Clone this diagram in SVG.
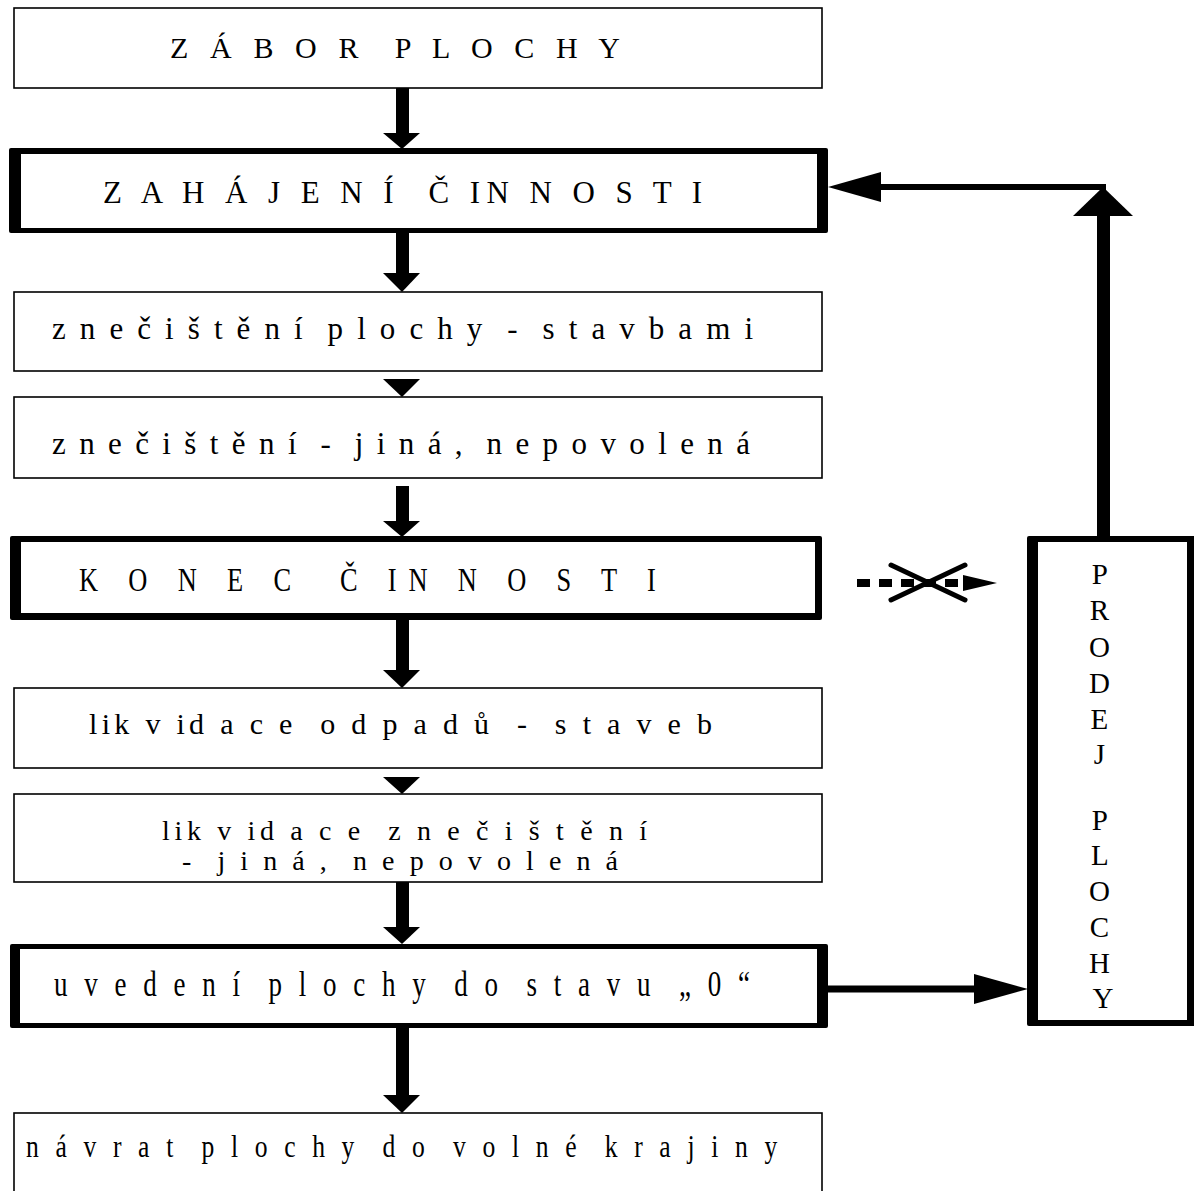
<svg xmlns="http://www.w3.org/2000/svg" width="1194" height="1191" viewBox="0 0 1194 1191">
<style>
.bg{fill:#fff}
.thin{fill:#fff;stroke:#000;stroke-width:1.6}
.frame{fill:#000}
.inner{fill:#fff}
.t{font-family:"Liberation Serif","Times New Roman",serif;fill:#000}
.ar{fill:#000;stroke:none}
.ln{stroke:#000;fill:none}
</style>
<rect class="bg" x="0" y="0" width="1194" height="1191"/>
<g id="connectors">
  <rect class="ar" x="396" y="88" width="13" height="46"/>
  <polygon class="ar" points="383,133 420,133 402,149"/>
  <rect class="ar" x="396" y="233" width="13" height="41"/>
  <polygon class="ar" points="383,273 420,273 402,292"/>
  <polygon class="ar" points="383,379 420,379 402,397"/>
  <rect class="ar" x="396" y="486" width="13" height="36"/>
  <polygon class="ar" points="383,521 420,521 402,537"/>
  <rect class="ar" x="396" y="620" width="13" height="51"/>
  <polygon class="ar" points="383,670 420,670 402,688"/>
  <polygon class="ar" points="383,777 420,777 402,794"/>
  <rect class="ar" x="396" y="882" width="13" height="46"/>
  <polygon class="ar" points="383,927 420,927 402,944"/>
  <rect class="ar" x="396" y="1028" width="13" height="68"/>
  <polygon class="ar" points="383,1095 420,1095 402,1113"/>
  <line class="ln" x1="828" y1="989" x2="976" y2="989" stroke-width="7"/>
  <polygon class="ar" points="974,974 1028,989 974,1004"/>
  <rect class="ar" x="1097" y="214" width="13" height="323"/>
  <polygon class="ar" points="1073,216 1133,216 1103,187"/>
  <line class="ln" x1="1106" y1="187" x2="880" y2="187" stroke-width="6"/>
  <polygon class="ar" points="881,172 828,187 881,202"/>
  <line class="ln" x1="857" y1="583" x2="965" y2="583" stroke-width="8" stroke-dasharray="13 9"/>
  <polygon class="ar" points="963,575 997,583 963,591"/>
  <line class="ln" x1="891" y1="565" x2="965" y2="600" stroke-width="5" stroke-linecap="round"/>
  <line class="ln" x1="891" y1="600" x2="965" y2="565" stroke-width="5" stroke-linecap="round"/>
</g>
<g id="n1">
  <rect class="thin" x="14" y="8" width="808" height="80"/>
  <text class="t" xml:space="preserve" x="170" y="58" textLength="450" lengthAdjust="spacing" font-size="30">Z Á B O R  P L O C H Y</text>
</g>
<g id="n2">
  <rect class="frame" x="9" y="148" width="819" height="85" rx="2"/>
  <rect class="inner" x="21" y="154" width="796" height="74"/>
  <text class="t" xml:space="preserve" x="103" y="203" textLength="599" lengthAdjust="spacing" font-size="31">Z A H Á J E N Í  Č IN N O S T I</text>
</g>
<g id="n3">
  <rect class="thin" x="14" y="292" width="808" height="79"/>
  <text class="t" xml:space="preserve" x="52" y="339" textLength="701" lengthAdjust="spacing" font-size="31">z n e č i š t ě n í  p l o c h y  -  s t a v b a m i</text>
</g>
<g id="n4">
  <rect class="thin" x="14" y="397" width="808" height="81"/>
  <text class="t" xml:space="preserve" x="52" y="454" textLength="698" lengthAdjust="spacing" font-size="31">z n e č i š t ě n í  -  j i n á ,  n e p o v o l e n á</text>
</g>
<g id="n5">
  <rect class="frame" x="10" y="536" width="812" height="84" rx="2"/>
  <rect class="inner" x="21" y="542" width="794" height="71"/>
  <text class="t" xml:space="preserve" transform="scale(0.8,1)" x="98.75" y="591" textLength="721" lengthAdjust="spacing" font-size="33">K O N E C  Č IN N O S T I</text>
</g>
<g id="n6">
  <rect class="thin" x="14" y="688" width="808" height="80"/>
  <text class="t" xml:space="preserve" x="89" y="734" textLength="623" lengthAdjust="spacing" font-size="30">lik v id a c e  o d p a d ů  -  s t a v e b</text>
</g>
<g id="n7">
  <rect class="thin" x="14" y="794" width="808" height="88"/>
  <text class="t" xml:space="preserve" x="162" y="840" textLength="485" lengthAdjust="spacing" font-size="28">lik v id a c e  z n e č i š t ě n í</text>
  <text class="t" xml:space="preserve" x="182" y="870" textLength="436" lengthAdjust="spacing" font-size="28">-  j i n á ,  n e p o v o l e n á</text>
</g>
<g id="n8">
  <rect class="frame" x="10" y="944" width="818" height="84" rx="2"/>
  <rect class="inner" x="20" y="949" width="797" height="74"/>
  <text class="t" xml:space="preserve" transform="scale(0.75,1)" x="72" y="996" textLength="928" lengthAdjust="spacing" font-size="36">u v e d e n í  p l o c h y  d o  s t a v u  „ 0 “</text>
</g>
<g id="n9">
  <rect class="thin" x="14" y="1113" width="808" height="90"/>
  <text class="t" xml:space="preserve" transform="scale(0.8,1)" x="32.5" y="1157" textLength="939" lengthAdjust="spacing" font-size="32">n á v r a t  p l o c h y  d o  v o l n é  k r a j i n y</text>
</g>
<g id="n10">
  <rect class="frame" x="1027" y="536" width="175" height="490" rx="2"/>
  <rect class="inner" x="1038" y="542" width="149" height="478"/>
  <text class="t" text-anchor="middle" font-size="29">
    <tspan x="1103" y="584">P</tspan>
    <tspan x="1103" y="620">R</tspan>
    <tspan x="1103" y="657">O</tspan>
    <tspan x="1103" y="693">D</tspan>
    <tspan x="1103" y="729">E</tspan>
    <tspan x="1103" y="764">J</tspan>
    <tspan x="1103" y="830">P</tspan>
    <tspan x="1103" y="865">L</tspan>
    <tspan x="1103" y="901">O</tspan>
    <tspan x="1103" y="937">C</tspan>
    <tspan x="1103" y="973">H</tspan>
    <tspan x="1103" y="1008">Y</tspan>
  </text>
</g>
</svg>
